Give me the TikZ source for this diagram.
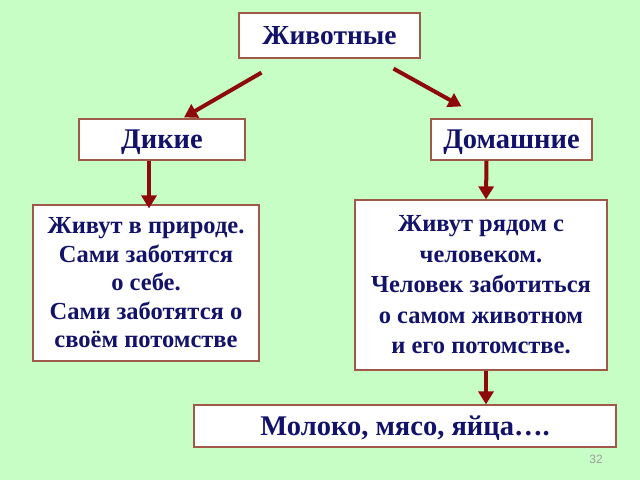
\documentclass[tikz,border=0pt]{standalone}
\usepackage{fontspec}
\setmainfont{Liberation Serif}
\setsansfont{Liberation Sans}
\usetikzlibrary{arrows.meta}
\definecolor{bggreen}{HTML}{C6FEC6}
\definecolor{boxline}{HTML}{A05848}
\definecolor{ink}{HTML}{12126A}
\definecolor{arrowred}{HTML}{8E0A0A}
\begin{document}
\begin{tikzpicture}[x=1pt,y=-1pt]
	\fill[bggreen] (0,0) rectangle (640,480);

	\begin{scope}[every node/.style={draw=boxline,fill=white,line width=1.2pt,text=ink,inner sep=0pt,align=center}]
	\node[minimum width=181pt,minimum height=45pt,text depth=0pt,font=\bfseries\fontsize{27.5}{30}\selectfont] (top) at (329.5, 35.5) {Животные};

	\node[minimum width=166pt,minimum height=41pt,text depth=0pt,font=\bfseries\fontsize{28.5}{30}\selectfont] (wild) at (162, 139.5) {Дикие};
	\node[minimum width=161pt,minimum height=41pt,text depth=0pt,font=\bfseries\fontsize{28.5}{30}\selectfont] (home) at (511.5, 139.5) {Домашние};

	\node[minimum width=226pt,minimum height=156pt,font=\bfseries\fontsize{24.5}{28.5}\selectfont] (wildtext) at (146, 283) {Живут в природе.\\Сами заботятся\\о себе.\\Сами заботятся о\\своём потомстве};
	\node[minimum width=252pt,minimum height=170pt,font=\bfseries\fontsize{24.5}{30.5}\selectfont] (hometext) at (481, 285) {Живут рядом с\\человеком.\\Человек заботиться\\о самом животном\\и его потомстве.};

	\node[minimum width=422pt,minimum height=42pt,text depth=0pt,font=\bfseries\fontsize{28.5}{30}\selectfont] (food) at (405, 426) {Молоко, мясо, яйца….};
	\end{scope}

	\node[text=gray!75,font=\sffamily\fontsize{12}{13}\selectfont] (page) at (596, 459) {32};

	\begin{scope}[arrowred,line width=4pt,-{Triangle[length=13pt,width=15pt]}]
	\draw ([shift={(-68,14)}]top.south) -- ([shift={(22,-1)}]wild.north);
	\draw ([shift={(64,10)}]top.south) -- ([shift={(-50,-12)}]home.north);

	\draw ([xshift=-13]wild.south) -- ([xshift=3,yshift=-4]wildtext.north);
	\draw ([xshift=-25]home.south) -- ([xshift=5]hometext.north);

	\draw ([xshift=5]hometext.south) -- ([xshift=81]food.north);
	\end{scope}
\end{tikzpicture}
\end{document}
